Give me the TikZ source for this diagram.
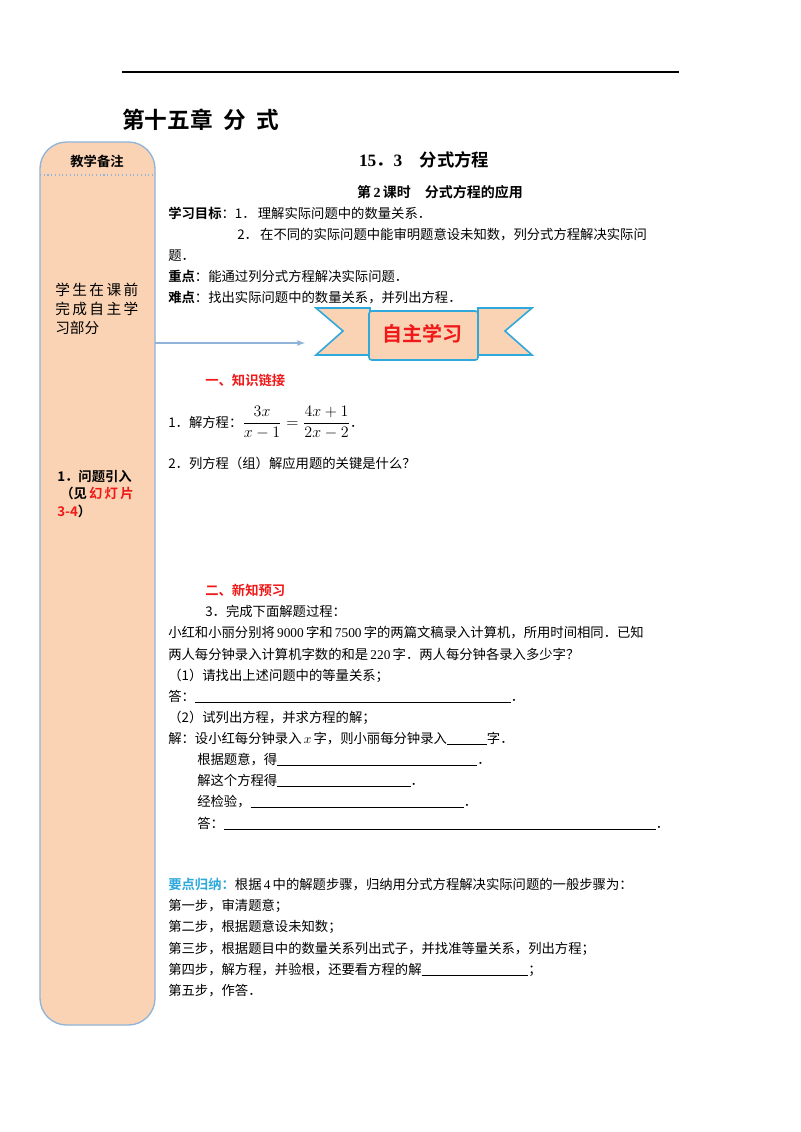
\documentclass[tikz,border=0pt]{standalone}
\usepackage{fontspec}
\setmainfont{Liberation Serif}
\newfontfamily\cjk{Noto Sans CJK SC}
\newfontfamily\cjkb{Noto Sans CJK SC Bold}
\definecolor{peach}{HTML}{FAD3B4}
\definecolor{sideblue}{HTML}{8FB3D9}
\definecolor{bannerblue}{HTML}{2FA8DC}
\definecolor{redt}{HTML}{F01818}
\newcommand{\blank}[1]{\rule[-1.5pt]{#1pt}{0.4pt}}
\tikzset{
 txt/.style={anchor=base west,inner sep=0pt,font=\cjk\fontsize{10pt}{12pt}\selectfont},
 bld/.style={anchor=base west,inner sep=0pt,font=\cjkb\fontsize{10pt}{12pt}\selectfont},
 redh/.style={bld,text=redt},
}
\begin{document}
\begin{tikzpicture}[x=0.75pt,y=-0.75pt]
\useasboundingbox (0,0) rectangle (800,1132);
\fill[white] (0,0) rectangle (800,1132);
\draw[line width=0.8pt] (122,72) -- (679,72);
\node[anchor=base west,inner sep=0pt,font=\cjkb\fontsize{17pt}{20pt}\selectfont] (chap) at (122,128) {第十五章\ \ 分\ \ 式};
% sidebar
\draw[sideblue,fill=peach,line width=1pt,rounded corners=20pt] (40,142) rectangle (155,1025);
\draw[sideblue,dotted,line width=0.8pt] (40,175) -- (155,175);
\node[bld,anchor=base] (note) at (97,166) {教学备注};
\node[anchor=north west,inner sep=0pt,align=left,font=\cjk\fontsize{11pt}{14pt}\selectfont] (pre) at (55,283) {学\,生\,在\,课\,前\\完\,成\,自\,主\,学\\习部分};
\node[anchor=north west,inner sep=0pt,align=left,font=\cjkb\fontsize{10pt}{13pt}\selectfont] (intro) at (57,470) {1．问题引入\\\ （见\,\textcolor{redt}{幻\,灯\,片}\\\textcolor{redt}{3-4}）};
% banner
\coordinate (arrs) at (155,343);
\draw[bannerblue,fill=peach,line width=1.2pt] (316,308) -- (370,308) -- (370,355) -- (316,355) -- (343,331) -- cycle;
\draw[bannerblue,fill=peach,line width=1.2pt] (532,308) -- (478,308) -- (478,355) -- (532,355) -- (505,331) -- cycle;
\draw[bannerblue,fill=peach,line width=1.2pt,rounded corners=2pt] (369,311) rectangle (478,360);
\node[font=\cjkb\fontsize{15pt}{18pt}\selectfont,text=redt] (ban) at (422,334) {自主学习};
\draw[sideblue,line width=1pt,-latex] (arrs) -- (305,343);
% titles
\node[anchor=base,inner sep=0pt,font=\cjkb\fontsize{13pt}{15pt}\selectfont] (t1) at (424,166) {{\rmfamily\bfseries 15}．{\rmfamily\bfseries 3}\quad 分式方程};
\node[anchor=base,inner sep=0pt,font=\cjkb\fontsize{10.5pt}{12pt}\selectfont] (t2) at (440,197) {第\,{\rmfamily\bfseries 2}\,课时\quad 分式方程的应用};
\node[txt] (g1) at (168,218) {\cjkb 学习目标\cjk：1．\,理解实际问题中的数量关系．};
\node[txt] (g2) at (237,239) {2．\,在不同的实际问题中能审明题意设未知数，列分式方程解决实际问};
\node[txt] (g3) at (168,260) {题．};
\node[txt] (k1) at (168,281) {\cjkb 重点\cjk：能通过列分式方程解决实际问题．};
\node[txt] (k2) at (168,302) {\cjkb 难点\cjk：找出实际问题中的数量关系，并列出方程．};
\node[redh] (s1) at (205,385) {一、知识链接};
\node[txt] (e1) at (168,427) {1．解方程：{\fontsize{11.5pt}{14pt}\selectfont$\displaystyle\frac{3x}{x-1}=\frac{4x+1}{2x-2}$}．};
\node[txt] (e2) at (168,468) {2．列方程（组）解应用题的关键是什么？};
\node[redh] (s2) at (205,595) {二、新知预习};
\node[txt] (p0) at (205,616) {3．完成下面解题过程：};
\node[txt] (p1) at (168,637) {小红和小丽分别将\,{\rmfamily 9000}\,字和\,{\rmfamily 7500}\,字的两篇文稿录入计算机，所用时间相同．已知};
\node[txt] (p2) at (168,659) {两人每分钟录入计算机字数的和是\,{\rmfamily 220}\,字．两人每分钟各录入多少字？};
\node[txt] (p3) at (168,680) {（1）请找出上述问题中的等量关系；};
\node[txt] (p4) at (168,701) {答：\blank{237}．};
\node[txt] (p5) at (168,722) {（2）试列出方程，并求方程的解；};
\node[txt] (p6) at (168,743) {解：设小红每分钟录入\,$x$\,字，则小丽每分钟录入\blank{30}字．};
\node[txt] (p7) at (197,764) {根据题意，得\blank{150}．};
\node[txt] (p8) at (197,785) {解这个方程得\blank{100}．};
\node[txt] (p9) at (197,806) {经检验，\blank{160}．};
\node[txt] (p10) at (197,828) {答：\blank{324}．};
\node[txt] (y0) at (168,889) {\cjkb\textcolor{bannerblue}{要点归纳：}\cjk 根据\,{\rmfamily 4}\,中的解题步骤，归纳用分式方程解决实际问题的一般步骤为：};
\node[txt] (y1) at (168,910) {第一步，审清题意；};
\node[txt] (y2) at (168,931) {第二步，根据题意设未知数；};
\node[txt] (y3) at (168,953) {第三步，根据题目中的数量关系列出式子，并找准等量关系，列出方程；};
\node[txt] (y4) at (168,974) {第四步，解方程，并验根，还要看方程的解\blank{80}；};
\node[txt] (y5) at (168,995) {第五步，作答．};
\end{tikzpicture}
\end{document}
